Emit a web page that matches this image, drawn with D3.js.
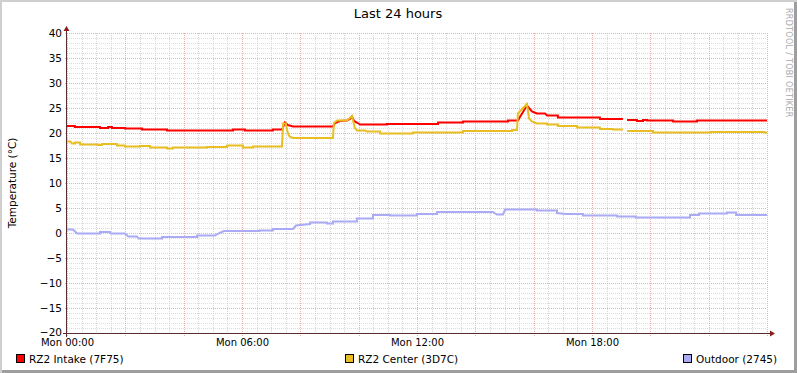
<!DOCTYPE html>
<html><head><meta charset="utf-8">
<script src="https://cdn.jsdelivr.net/npm/d3@7"></script>
<style>
html,body{margin:0;padding:0;background:#fff;}
svg{display:block;}
text{font-family:"DejaVu Sans",sans-serif;}
</style></head>
<body>
<svg id="chart" width="797" height="373"></svg>
<script>
// ---- data (time in hours since Mon 00:00, temperature °C) ----
const title = "Last 24 hours";
const yLabel = "Temperature (°C)";
const seriesNames = ["RZ2 Intake (7F75)", "RZ2 Center (3D7C)", "Outdoor (2745)"];
const seriesColors = ["#ff0000", "#e8be22", "#aaaaf5"];
const yTicks = [-20, -15, -10, -5, 0, 5, 10, 15, 20, 25, 30, 35, 40];
const xTickHours = [0, 6, 12, 18];
const xTickLabels = ["Mon 00:00", "Mon 06:00", "Mon 12:00", "Mon 18:00"];

const intake = [
 [0,21.4],[0.27,21.4],[0.27,21.2],[1.13,21.2],[1.13,21.0],[1.41,21.0],[1.41,21.2],[1.54,21.2],[1.54,21.0],
 [1.99,21.0],[1.99,20.9],[2.57,20.9],[2.57,20.7],[3.43,20.7],[3.43,20.5],[5.69,20.5],[5.69,20.7],[6.1,20.7],
 [6.1,20.5],[7.06,20.5],[7.06,20.7],[7.38,20.7],[7.47,22.1],[7.57,21.6],[7.75,21.3],[9.12,21.3],[9.19,22.0],
 [9.36,22.4],[9.6,22.5],[9.7,22.8],[9.77,23.3],[9.84,22.4],[9.94,22.1],[10.05,21.7],[10.97,21.7],[10.97,21.8],
 [12.72,21.8],[12.72,22.1],[13.58,22.1],[13.58,22.3],[15.12,22.3],[15.12,22.5],[15.46,22.5],[15.53,23.2],
 [15.77,25.5],[15.84,25.0],[15.94,24.3],[16.11,23.9],[16.39,23.9],[16.46,23.5],[16.83,23.5],[16.83,23.1],
 [18.27,23.1],[18.27,22.8],[19.06,22.8],[19.1,null],[19.2,22.6],[19.54,22.6],[19.54,22.4],[19.75,22.4],
 [19.75,22.6],[19.89,22.6],[19.89,22.5],[20.78,22.5],[20.78,22.3],[21.6,22.3],[21.6,22.5],[24,22.5]
];
const center = [
 [0,18.3],[0.12,18.3],[0.17,17.9],[0.27,17.9],[0.27,18.1],[0.45,18.1],[0.45,17.7],[1.06,17.7],[1.06,17.6],
 [1.2,17.6],[1.2,17.8],[1.71,17.8],[1.71,17.5],[1.99,17.5],[1.99,17.3],[2.5,17.3],[2.5,17.4],[2.85,17.4],
 [2.85,17.1],[3.43,17.1],[3.43,16.9],[3.63,16.9],[3.63,17.1],[4.8,17.1],[4.8,17.2],[5.49,17.2],[5.49,17.5],
 [6.03,17.5],[6.03,17.1],[6.38,17.1],[6.38,17.3],[7.37,17.3],[7.41,21.9],[7.5,21.9],[7.57,20.0],[7.63,19.3],
 [7.75,19.0],[9.12,19.0],[9.15,22.0],[9.26,22.5],[9.6,22.5],[9.77,23.4],[9.87,21.0],[9.94,20.5],[10.22,20.5],
 [10.29,20.3],[10.73,20.3],[10.73,19.9],[11.86,19.9],[11.86,20.1],[13.58,20.1],[13.58,20.4],[15.26,20.4],
 [15.26,20.6],[15.43,20.6],[15.46,23.9],[15.77,25.8],[15.84,22.9],[15.94,22.3],[16.11,21.9],[16.46,21.9],
 [16.46,21.7],[16.83,21.7],[16.83,21.4],[17.49,21.4],[17.49,21.1],[18.27,21.1],[18.27,20.8],[18.72,20.8],
 [18.72,20.7],[19.06,20.7],[19.1,null],[19.2,20.4],[20.09,20.4],[20.09,20.1],[22.05,20.1],[22.05,20.2],
 [23.9,20.2],[24,20.0]
];
const outdoor = [
 [0,0.7],[0.2,0.7],[0.35,-0.1],[1.13,-0.1],[1.13,0.2],[1.47,0.2],[1.5,-0.1],[1.99,-0.1],[2.1,-0.7],[2.4,-0.7],
 [2.45,-1.1],[3.26,-1.1],[3.26,-0.8],[4.46,-0.8],[4.46,-0.5],[5.08,-0.5],[5.15,-0.2],[5.38,0.4],[6.6,0.4],
 [6.6,0.5],[7.06,0.5],[7.06,0.8],[7.75,0.8],[7.85,1.5],[8.33,1.8],[8.33,2.1],[8.91,2.1],[8.91,1.9],[9.12,1.9],
 [9.12,2.3],[9.94,2.3],[9.94,2.9],[10.49,2.9],[10.49,3.6],[11.07,3.6],[11.07,3.5],[12.0,3.5],[12.0,3.8],
 [12.69,3.8],[12.69,4.2],[14.6,4.2],[14.74,3.7],[14.95,3.7],[15.02,4.7],[16.11,4.7],[16.11,4.5],[16.8,4.5],
 [16.8,4.0],[17.1,3.8],[17.69,3.8],[17.69,3.5],[18.86,3.5],[18.86,3.3],[19.5,3.3],[19.5,3.1],[21.36,3.1],
 [21.36,3.6],[21.67,3.6],[21.67,3.9],[22.63,3.9],[22.63,4.1],[22.94,4.1],[22.94,3.6],[24,3.6]
];
const seriesData = [intake, center, outdoor];

// ---- drawing ----
const W = 797, H = 373;
const svg = d3.select("#chart");
const x = d3.scaleLinear().domain([0, 24]).range([67, 767]);
const y = d3.scaleLinear().domain([-20, 40]).range([333, 33]);

// background + 3D border
svg.append("rect").attr("x",0).attr("y",0).attr("width",W).attr("height",H).attr("fill","#ffffff");
svg.append("path").attr("d",`M0,0H${W}V2H2V${H}H0Z`).attr("fill","#cfcfcf");
svg.append("path").attr("d",`M${W},${H}H2V${H-3}H${W-3}V2H${W}Z`).attr("fill","#9e9e9e");

const g = svg.append("g");
const px = v => Math.round(v) + 0.5;

// minor grid
const minorY = d3.range(-20, 41, 1).filter(v => v % 5 !== 0);
const minorX = d3.range(0, 24.01, 0.5).filter(h => h % 2 !== 0);
g.selectAll(".hmin").data(minorY).join("line")
 .attr("x1",67).attr("x2",767).attr("y1",d=>px(y(d))).attr("y2",d=>px(y(d)))
 .attr("stroke","#dcdcdc").attr("stroke-dasharray","1,1");
g.selectAll(".vmin").data(minorX).join("line")
 .attr("x1",d=>px(x(d))).attr("x2",d=>px(x(d))).attr("y1",33).attr("y2",335)
 .attr("stroke","#d4d4d4").attr("stroke-dasharray","1,1");
// major grid
const majorX = d3.range(0, 24.01, 2);
g.selectAll(".hmaj").data(yTicks).join("line")
 .attr("x1",65).attr("x2",767).attr("y1",d=>px(y(d))).attr("y2",d=>px(y(d)))
 .attr("stroke","#eeb0b0").attr("stroke-dasharray","1,1");
g.selectAll(".vmaj").data(majorX).join("line")
 .attr("x1",d=>px(x(d))).attr("x2",d=>px(x(d))).attr("y1",33).attr("y2",336)
 .attr("stroke","#eeb0b0").attr("stroke-dasharray","1,1");

// series lines
const line = d3.line().defined(d => d[1] !== null).x(d => x(d[0])).y(d => y(d[1]));
seriesData.forEach((s, i) => {
  g.append("path").datum(s).attr("d", line).attr("fill","none")
   .attr("stroke", seriesColors[i]).attr("stroke-width", 2).attr("stroke-linejoin","miter");
});

// axes via d3.axis (labels)
const yAxis = d3.axisLeft(y).tickValues(yTicks).tickSize(0).tickPadding(4).tickFormat(d3.format("d"));
const ya = g.append("g").attr("transform","translate(66,0)").call(yAxis);
ya.select(".domain").remove();
ya.selectAll("text").attr("font-size","10.5px").attr("fill","#000").attr("font-family","DejaVu Sans");
ya.selectAll(".tick").filter(d => d === -20).select("text").attr("dy","0.2em");

const xAxis = d3.axisBottom(x).tickValues(xTickHours).tickSize(0).tickPadding(6)
 .tickFormat((d,i) => xTickLabels[i]);
const xa = g.append("g").attr("transform","translate(0,333)").call(xAxis);
xa.select(".domain").remove();
xa.selectAll("text").attr("font-size","10px").attr("fill","#000").attr("font-family","DejaVu Sans");

// axis lines with arrows
const axisCol = "#5a2e2e";
g.append("line").attr("x1",63).attr("x2",773).attr("y1",333.5).attr("y2",333.5).attr("stroke",axisCol);
g.append("line").attr("x1",66.5).attr("x2",66.5).attr("y1",337).attr("y2",28).attr("stroke",axisCol);
g.append("path").attr("d","M770,330.5L775,333.5L770,336.5Z").attr("fill","#8b1a1a");
g.append("path").attr("d","M63.5,31L66.5,26L69.5,31Z").attr("fill","#8b1a1a");

// title & labels
svg.append("text").attr("x",398).attr("y",18).attr("text-anchor","middle")
 .attr("font-size","13px").attr("fill","#000").text(title);
svg.append("text").attr("transform","translate(16,183) rotate(-90)").attr("text-anchor","middle")
 .attr("font-size","10.5px").attr("fill","#000").text(yLabel);
svg.append("text").attr("transform","translate(786,8) rotate(90)").attr("text-anchor","start")
 .attr("font-size","8px").attr("letter-spacing","0.3px").attr("fill","#aaaaaa").text("RRDTOOL / TOBI OETIKER");

// legend
const legendX = [16, 345, 683];
seriesNames.forEach((n, i) => {
  svg.append("rect").attr("x",legendX[i]+0.5).attr("y",354.5).attr("width",8).attr("height",8)
   .attr("fill",seriesColors[i]).attr("stroke","#000");
  svg.append("text").attr("x",legendX[i]+13).attr("y",363).attr("font-size","10.5px")
   .attr("fill","#000").text(n);
});
</script>
</body></html>
